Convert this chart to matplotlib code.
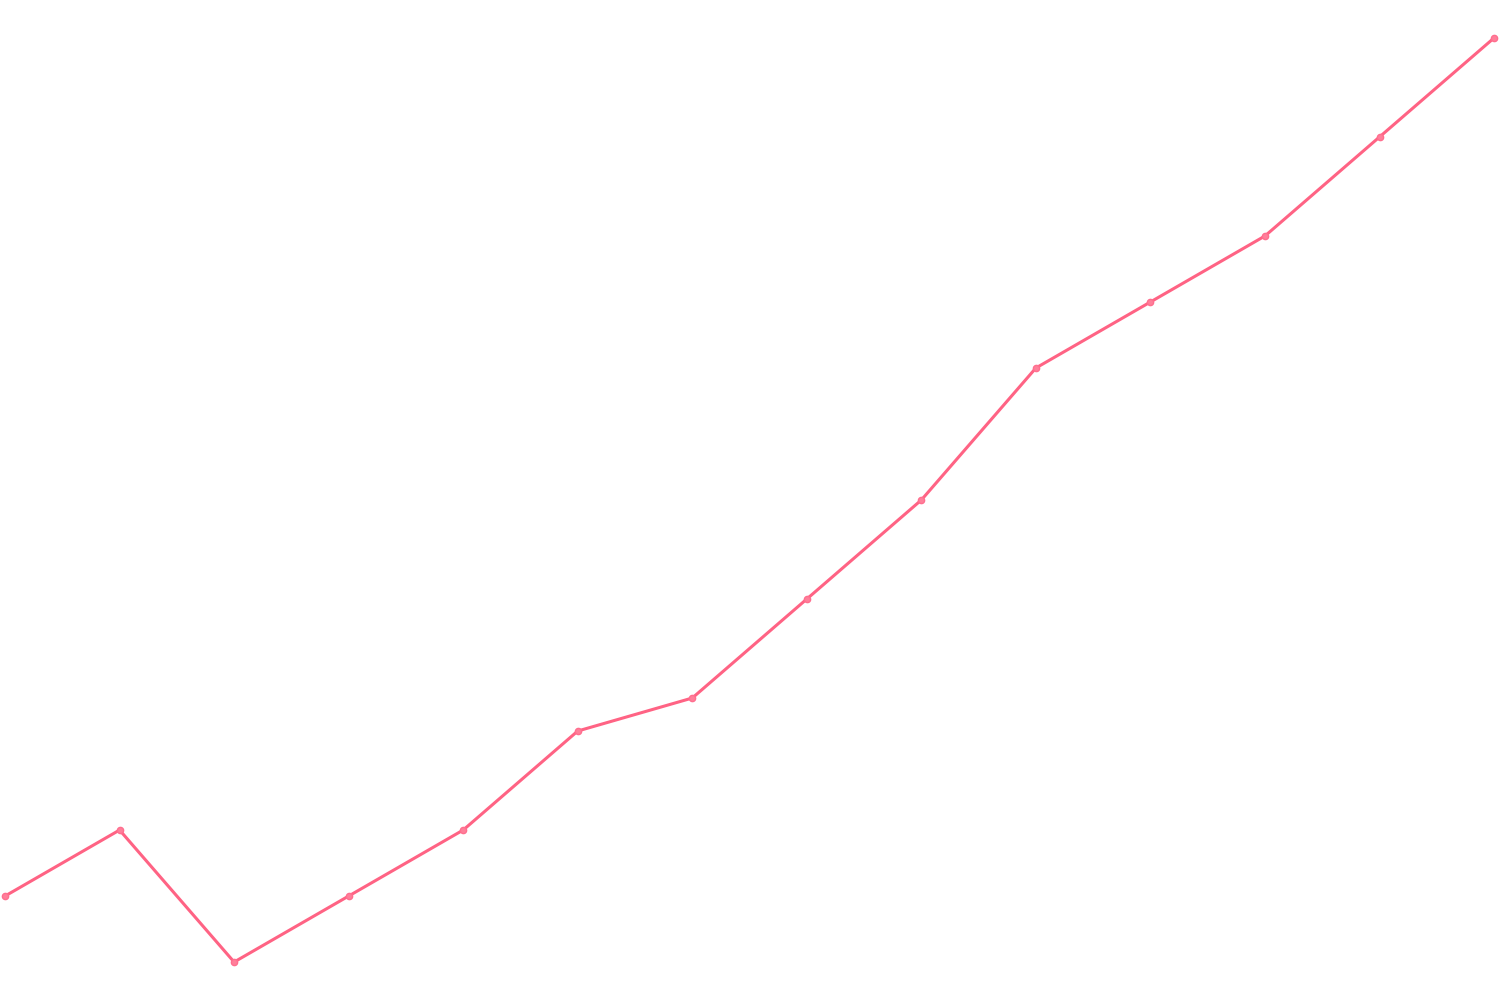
import matplotlib

matplotlib.use("Agg")
import matplotlib.pyplot as plt

# values (one unit ~ 33 px)
points = list(range(14))
values = [2, 4, 0, 2, 4, 7, 8, 11, 14, 18, 20, 22, 25, 28]

line_color = "#ff6384"

fig = plt.figure(figsize=(15, 10), dpi=100)
ax = fig.add_axes([0, 0, 1, 1])
ax.plot(
    points,
    values,
    color=line_color,
    linewidth=2.2,
    marker="o",
    markersize=4.5,
    markerfacecolor="#ff7f9a",
    markeredgecolor="#ff6f8f",
    markeredgewidth=1,
    solid_joinstyle="round",
)
ax.set_xlim(-0.044, 13.052)
ax.set_ylim(-1.15, 29.15)
ax.axis("off")
fig.savefig("out.png")
